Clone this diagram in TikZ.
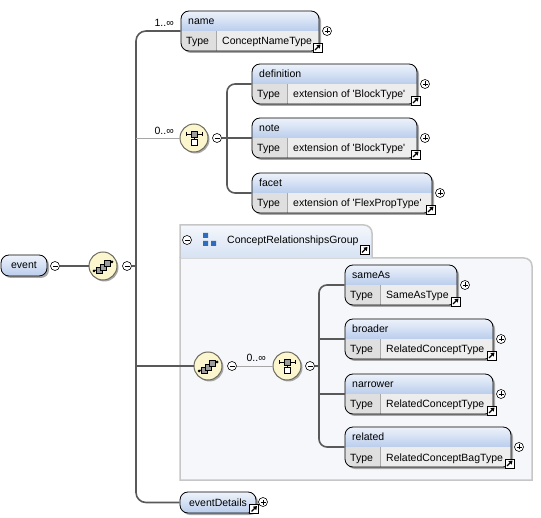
\documentclass[tikz,border=0pt]{standalone}
\usepackage{fontspec}
\setmainfont{Liberation Sans}
\usetikzlibrary{arrows.meta}

\definecolor{hdtop}{HTML}{EEF3FB}
\definecolor{hdbot}{HTML}{BACDEC}
\definecolor{typecell}{HTML}{DFDFDF}
\definecolor{valcell}{HTML}{EDEDED}
\definecolor{boxshadow}{HTML}{A8A8A8}
\definecolor{grpbody}{HTML}{F5F7FA}
\definecolor{grpline}{HTML}{C6C6C6}
\definecolor{grptop}{HTML}{F4F7FC}
\definecolor{grpbot}{HTML}{D6E2F3}
\definecolor{compfill}{HTML}{FBF6CE}
\definecolor{compline}{HTML}{6E6C60}
\definecolor{wirecol}{HTML}{595959}
\definecolor{icongray}{HTML}{9C9C9C}
\definecolor{grpblue}{HTML}{2D6CBF}

\newcommand{\sq}{\textquotesingle}

\newcommand{\linkicon}[2]{%
  \draw[fill=white, line width=0.8pt] (#1-4.5,#2-4.5) rectangle (#1+4.5,#2+4.5);
  \draw[line width=1.3pt, -{Triangle[length=3.5pt,width=4.5pt]}] (#1-2.5,#2+2.5) -- (#1+3,#2-3);
}

\newcommand{\xsdelem}[6]{%
  \fill[boxshadow, rounded corners=8pt] (#2+2,#3+2) rectangle ++(#4,40);
  \begin{scope}
    \clip[rounded corners=8pt] (#2,#3) rectangle ++(#4,40);
    \shade[top color=hdtop, bottom color=hdbot] (#2,#3) rectangle ++(#4,20);
    \fill[typecell] (#2,#3+20) rectangle ++(35,20);
    \fill[valcell] (#2+36,#3+20) rectangle (#2+#4,#3+40);
  \end{scope}
  \node[elem, minimum width=#4pt, minimum height=40pt] (#1) at (#2+#4/2,#3+20) {};
  \node[txt] at (#2+7,#3+14) {#5};
  \node[txt] at (#2+5,#3+34) {Type};
  \node[txt] at (#2+41,#3+34) {#6};
  \node[plus] (#1p) at (#2+#4+8,#3+20) {};
  \linkicon{#2+#4-1.5}{#3+36.5}
}

\newcommand{\xsdsingle}[5]{%
  \fill[boxshadow, rounded corners=8pt] (#2+2,#3+2) rectangle ++(#4,21);
  \node[elem, top color=hdtop, bottom color=hdbot, minimum width=#4pt, minimum height=21pt] (#1) at (#2+#4/2,#3+10.5) {#5};
}

\newcommand{\seqicon}[1]{%
  \begin{scope}[shift={(#1.center)}]
    \draw[line width=0.8pt] (-9,5) -- (9,-4);
    \fill (-9,5) circle (1.5) (9,-4) circle (1.5);
    \draw[fill=icongray, line width=0.6pt] (-7,1) rectangle (-1,7);
    \draw[fill=icongray, line width=0.6pt] (-3,-2) rectangle (3,4);
    \draw[fill=icongray, line width=0.6pt] (1,-6) rectangle (7,0);
  \end{scope}}

\newcommand{\choiceicon}[1]{%
  \begin{scope}[shift={(#1.center)}]
    \draw[line width=0.8pt] (-8,-4) -- (8,-4) (-8,-6) -- (-8,-2) (8,-6) -- (8,-2) (0,-1) -- (0,1);
    \draw[fill=icongray, line width=0.6pt] (-3,-7) rectangle (3,-1);
    \draw[fill=white, line width=0.6pt] (-3,1) rectangle (3,7);
  \end{scope}}

\begin{document}
\begin{tikzpicture}[x=1pt, y=-1pt,
  every node/.style={font=\fontsize{10.5}{12}\selectfont},
  elem/.style={draw, rounded corners=8pt, inner sep=0pt, line width=0.8pt},
  txt/.style={anchor=base west, inner sep=0pt},
  card/.style={anchor=base east, inner sep=0pt},
  pm/.style={circle, draw, fill=white, minimum size=9pt, inner sep=0pt, line width=0.6pt},
  minus/.style={pm, path picture={\draw ([xshift=-2.5pt]path picture bounding box.center) -- ([xshift=2.5pt]path picture bounding box.center);}},
  plus/.style={pm, path picture={\draw ([xshift=-2.5pt]path picture bounding box.center) -- ([xshift=2.5pt]path picture bounding box.center) ([yshift=-2.5pt]path picture bounding box.center) -- ([yshift=2.5pt]path picture bounding box.center);}},
  comp/.style={circle, draw=compline, fill=compfill, line width=1pt, minimum size=28pt, inner sep=0pt, preaction={fill=boxshadow, transform canvas={xshift=1.5pt, yshift=-1.5pt}}},
  wire/.style={draw=wirecol, line width=1.6pt},
  thinwire/.style={draw=black!35, line width=0.8pt}]
\useasboundingbox (0,0) rectangle (541,518);

\draw[grpline, line width=1.5pt, fill=grpbody] (180,480) -- (180,258) -- (524,258) arc[start angle=-90, end angle=0, radius=8] -- (532,480) -- cycle;
\shadedraw[top color=grptop, bottom color=grpbot, draw=grpline, line width=1.5pt] (180,258) -- (180,225) -- (364,225) arc[start angle=-90, end angle=0, radius=8] -- (372,258);
\node[minus] (grpm) at (187,240) {};
\fill[grpblue] (203,233) rectangle (208,238) (203,241) rectangle (208,246) (211,241) rectangle (216,246);
\node[txt] (grp) at (227,244) {ConceptRelationshipsGroup};
\linkicon{364.5}{250}

\xsdelem{name}{181}{11}{138}{name}{ConceptNameType}
\xsdelem{defn}{252}{64}{165}{definition}{extension of \sq BlockType\sq}
\xsdelem{note}{252}{118}{165}{note}{extension of \sq BlockType\sq}
\xsdelem{facet}{252}{173}{180}{facet}{extension of \sq FlexPropType\sq}
\xsdelem{sameas}{345}{265}{112}{sameAs}{SameAsType}
\xsdelem{broader}{345}{319}{148}{broader}{RelatedConceptType}
\xsdelem{narrower}{345}{374}{148}{narrower}{RelatedConceptType}
\xsdelem{related}{345}{427}{166}{related}{RelatedConceptBagType}

\xsdsingle{event}{1}{255}{46}{event}
\xsdsingle{evdet}{180}{492}{76}{eventDetails}
\node[minus] (eventm) at (55,266) {};
\node[plus] (evdetp) at (263,502) {};
\linkicon{254}{509}

\node[comp] (seq) at (103,266) {};
\seqicon{seq}
\node[minus] (seqm) at (127,266) {};
\node[comp] (chA) at (194,138) {};
\choiceicon{chA}
\node[minus] (chAm) at (217,138) {};
\node[comp] (seqB) at (208,366) {};
\seqicon{seqB}
\node[minus] (seqBm) at (232,366) {};
\node[comp] (chB) at (287,366) {};
\choiceicon{chB}
\node[minus] (chBm) at (310,366) {};

\coordinate (bus) at (136,266);
\coordinate (busA) at (227,138);
\coordinate (busB) at (319,366);

\draw[wire] (eventm) -- (seq);
\draw[wire] (seqm) -- (bus);
\draw[wire, rounded corners=10pt] (name.west) -| (bus) |- (evdet.west);
\node[card] at (174,27) {1..∞};
\draw[thinwire] (bus |- chA) -- (chA);
\node[card] at (174,135) {0..∞};
\draw[wire] (bus |- seqB) -- (seqB);

\draw[wire] (chAm) -- (note.west);
\draw[wire, rounded corners=8pt] (defn.west) -| (busA) |- (facet.west);

\draw[thinwire] (seqBm) -- (chB);
\node[card] at (266,362) {0..∞};
\draw[wire] (chBm) -- (busB);
\draw[wire, rounded corners=8pt] (sameas.west) -| (busB) |- (related.west);
\draw[wire] (busB |- broader.west) -- (broader.west);
\draw[wire] (busB |- narrower.west) -- (narrower.west);
\end{tikzpicture}
\end{document}
